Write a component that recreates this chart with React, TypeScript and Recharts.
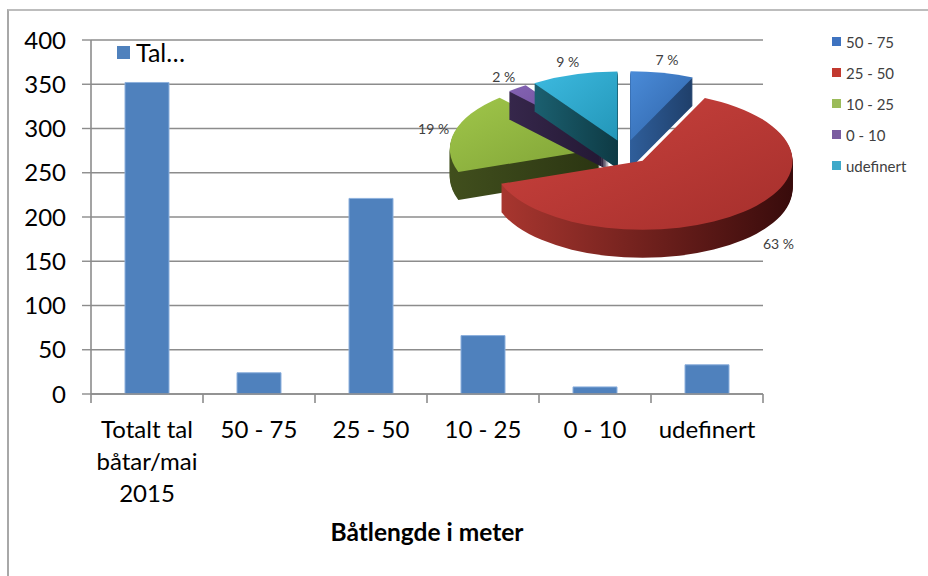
import React from 'react';
import { BarChart, Bar, XAxis, YAxis, CartesianGrid, Label, PieChart, Pie } from 'recharts';

// ---- data ----
const categoryLabels = ['Totalt tal\nbåtar/mai\n2015', '50 - 75', '25 - 50', '10 - 25', '0 - 10', 'udefinert'];
const boatCounts = [352, 24, 221, 66, 8, 33];
const yTicks = [0, 50, 100, 150, 200, 250, 300, 350, 400];
const seriesName = 'Tal…';
const xAxisTitle = 'Båtlengde i meter';

// ---- styles ----
const FONT = "Lato, 'Open Sans', sans-serif";
const BAR_COLOR = '#4F81BD';
const GRID = '#8C8C8C';
const topColors = [
  ['#4A8BD8', '#2E62A6'],
  ['#CC433E', '#A52F2C'],
  ['#A0C64A', '#7FA236'],
  ['#8463B3', '#5F428A'],
  ['#3DBAE0', '#2396B8'],
];
const sideColors = [
  ['#2F5E9A', '#1F3F6A'],
  ['#A8362F', '#380B0B'],
  ['#414F1D', '#2B3512'],
  ['#36274B', '#221732'],
  ['#1B6070', '#0E3A44'],
];
const legendColors = ['#3E73C0', '#C2392F', '#9BBB59', '#7A5CA0', '#3FA9C9'];

const barData = categoryLabels.map((name, i) => ({ name, count: boatCounts[i] }));
const pieData = categoryLabels.slice(1).map((name, i) => ({ name, value: boatCounts[i + 1] }));

const RY = 0.46;
const DEPTH = 28;
const EXPLODE = 26;
const TICK_LEN = 9;

const pt = (cx: number, cy: number, rx: number, ry: number, a: number) => {
  const r = (a * Math.PI) / 180;
  return [cx + rx * Math.cos(r), cy - ry * Math.sin(r)];
};

const slicePath = (cx: number, cy: number, rx: number, ry: number, sa: number, ea: number) => {
  const [x1, y1] = pt(cx, cy, rx, ry, sa);
  const [x2, y2] = pt(cx, cy, rx, ry, ea);
  const large = Math.abs(sa - ea) > 180 ? 1 : 0;
  const sweep = sa > ea ? 1 : 0;
  return `M${cx},${cy} L${x1},${y1} A${rx},${ry} 0 ${large} ${sweep} ${x2},${y2} Z`;
};

const makeSliceRenderer = (front: boolean) => (props: any) => {
  const { cx, cy, outerRadius, startAngle, endAngle, index, percent } = props;
  const m = (startAngle + endAngle) / 2;
  const mr = (m * Math.PI) / 180;
  const c = Math.cos(mr);
  const s = Math.sin(mr);
  const isFront = s < 0;
  if (isFront !== front) return <g key={`s${index}`} />;
  const ox = cx + EXPLODE * c;
  const oy = cy - EXPLODE * RY * s;
  const rx = outerRadius;
  const ry = outerRadius * RY;
  const d = slicePath(ox, oy, rx, ry, startAngle, endAngle);
  const layers = [];
  for (let k = DEPTH; k >= 1; k--) {
    layers.push(<path key={k} d={d} transform={`translate(0,${k})`} fill={`url(#side${index})`} />);
  }
  const lx = ox + (rx * (isFront ? 1.25 : 1.05) + 14) * c;
  const ly = oy - (ry * (isFront ? 0.95 : 1.05) + 10) * s + (isFront ? DEPTH : 0);
  return (
    <g key={`s${index}`}>
      {layers}
      <path d={d} fill={`url(#top${index})`} />
      <text x={lx} y={ly} dy="0.35em" textAnchor="middle" fontFamily={FONT} fontSize={14} fill="#404040">
        {`${Math.round(percent * 100)} %`}
      </text>
    </g>
  );
};

const CategoryTick = (props: any) => {
  const { x, y, payload, index } = props;
  const lines = String(payload.value).split('\n');
  const half = typeof payload.offset === 'number' ? payload.offset : 0;
  const isLast = index === categoryLabels.length - 1;
  return (
    <g transform={`translate(${x},${y})`}>
      {half > 0 && <line x1={-half} x2={-half} y1={0} y2={TICK_LEN} stroke={GRID} strokeWidth={1.6} />}
      {half > 0 && isLast && <line x1={half} x2={half} y1={0} y2={TICK_LEN} stroke={GRID} strokeWidth={1.6} />}
      <text textAnchor="middle" fontFamily={FONT} fontSize={24} fill="#000">
        {lines.map((l, i) => (
          <tspan key={i} x={0} dy={i === 0 ? 44 : 32}>
            {l}
          </tspan>
        ))}
      </text>
    </g>
  );
};

export default function App() {
  return (
    <div style={{ position: 'absolute', left: 0, top: 0, width: 928, height: 576, background: '#fff', overflow: 'hidden', fontFamily: FONT }}>
      <div style={{ position: 'absolute', left: 7, top: 9, width: 940, height: 600, borderLeft: '2px solid #A8A8A8', borderTop: '2px solid #BDBDBD' }} />
      <div style={{ position: 'absolute', left: 0, top: 0 }}>
        <BarChart width={928} height={576} data={barData} margin={{ top: 40, right: 165, left: 0, bottom: 181 }}>
          <CartesianGrid vertical={false} stroke={GRID} strokeWidth={1.4} />
          <XAxis
            dataKey="name"
            axisLine={{ stroke: GRID, strokeWidth: 1.6 }}
            tickLine={false}
            tickSize={0}
            tickMargin={0}
            height={1}
            interval={0}
            tick={<CategoryTick />}
          >
            <Label value={xAxisTitle} position="bottom" offset={129} fontFamily={FONT} fontSize={24.5} fontWeight="bold" fill="#000" />
          </XAxis>
          <YAxis
            width={91}
            domain={[0, 400]}
            ticks={yTicks}
            interval={0}
            tickSize={9}
            tickMargin={16}
            axisLine={{ stroke: GRID, strokeWidth: 1.6 }}
            tickLine={{ stroke: GRID, strokeWidth: 1.4 }}
            tick={{ fill: '#000', fontSize: 24, fontFamily: FONT }}
          />
          <Bar dataKey="count" fill={BAR_COLOR} stroke="#8DB0DD" strokeWidth={1} barSize={44} isAnimationActive={false} />
        </BarChart>
      </div>
      <div style={{ position: 'absolute', left: 0, top: 0 }}>
        <PieChart width={928} height={576} margin={{ top: 0, right: 0, bottom: 0, left: 0 }}>
          <defs>
            {topColors.map((cl, i) => (
              <linearGradient key={`t${i}`} id={`top${i}`} x1="0" y1="0" x2="1" y2="1">
                <stop offset="0%" stopColor={cl[0]} />
                <stop offset="100%" stopColor={cl[1]} />
              </linearGradient>
            ))}
            {sideColors.map((cl, i) => (
              <linearGradient key={`s${i}`} id={`side${i}`} x1="0" y1="0" x2="1" y2="0">
                <stop offset="0%" stopColor={cl[0]} />
                <stop offset="100%" stopColor={cl[1]} />
              </linearGradient>
            ))}
          </defs>
          <Pie
            data={pieData}
            dataKey="value"
            nameKey="name"
            cx={625}
            cy={152}
            outerRadius={150}
            startAngle={90}
            endAngle={-270}
            fill="none"
            stroke="none"
            labelLine={false}
            label={makeSliceRenderer(false)}
            isAnimationActive={false}
          />
          <Pie
            data={pieData}
            dataKey="value"
            nameKey="name"
            cx={625}
            cy={152}
            outerRadius={150}
            startAngle={90}
            endAngle={-270}
            fill="none"
            stroke="none"
            labelLine={false}
            label={makeSliceRenderer(true)}
            isAnimationActive={false}
          />
        </PieChart>
      </div>
      {/* bar series legend */}
      <div style={{ position: 'absolute', left: 117, top: 36, height: 32, display: 'flex', alignItems: 'center' }}>
        <div style={{ width: 13, height: 13, background: BAR_COLOR, marginRight: 6 }} />
        <span style={{ fontSize: 25, color: '#000', lineHeight: '32px' }}>{seriesName}</span>
      </div>
      {/* pie legend */}
      <div style={{ position: 'absolute', left: 832, top: 26 }}>
        {pieData.map((d, i) => (
          <div key={d.name} style={{ height: 31, display: 'flex', alignItems: 'center' }}>
            <div style={{ width: 9, height: 9, background: legendColors[i], marginRight: 5 }} />
            <span style={{ fontSize: 15, color: '#404040' }}>{d.name}</span>
          </div>
        ))}
      </div>
    </div>
  );
}
